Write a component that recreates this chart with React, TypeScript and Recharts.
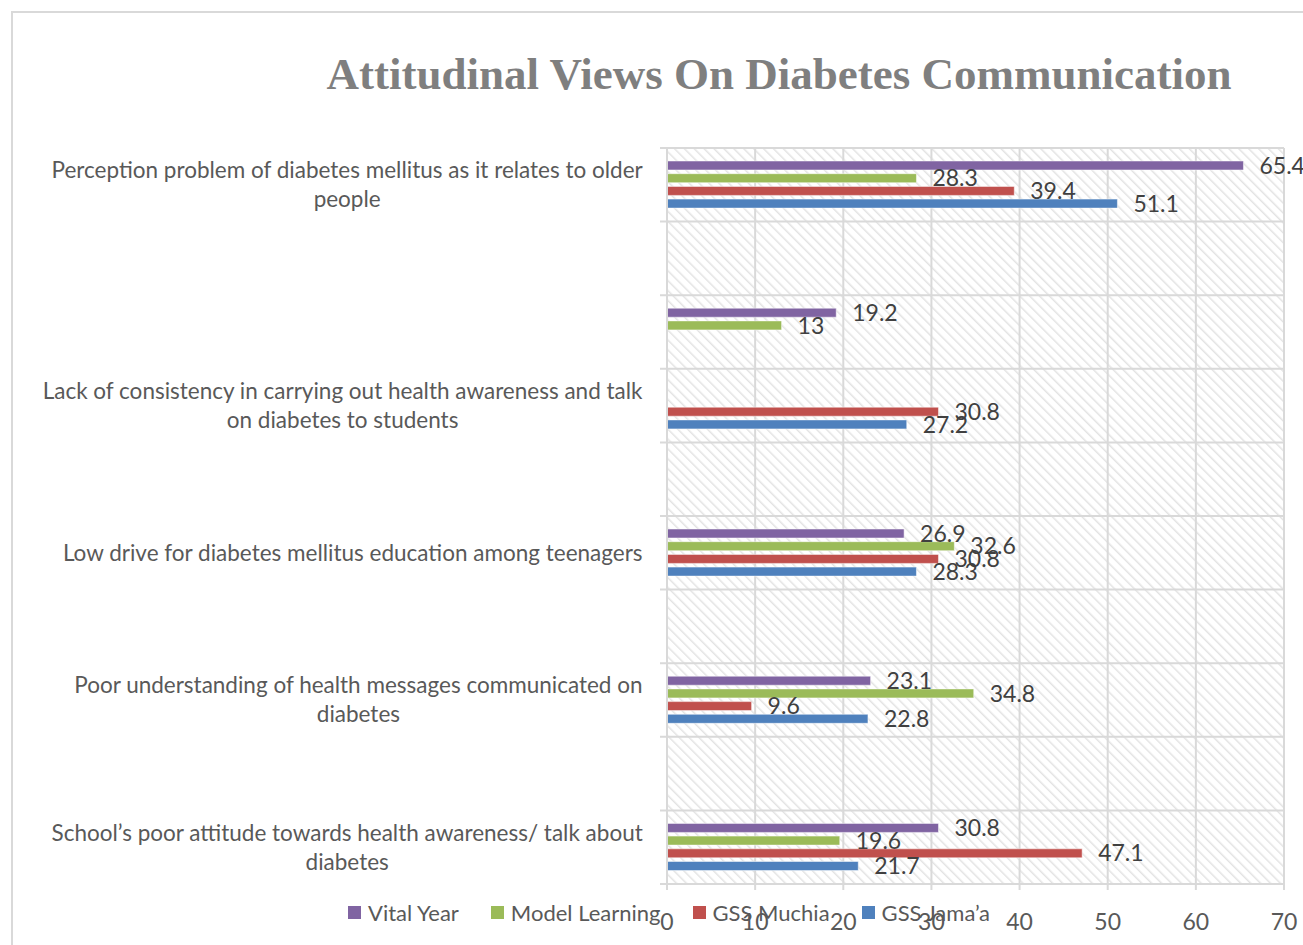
import { BarChart, Bar, XAxis, YAxis, CartesianGrid, LabelList } from 'recharts';

// categories, top to bottom (empty bands kept as in the source chart)
const categoryKeys = ['c0', 'c1', 'c2', 'c3', 'c4', 'c5', 'c6', 'c7', 'c8', 'c9'];
const categoryLabels: string[][] = [
  ['Perception problem of diabetes mellitus as it relates to older', 'people'],
  [],
  [],
  ['Lack of consistency in carrying out health awareness and talk', 'on diabetes to students'],
  [],
  ['Low drive for diabetes mellitus education among teenagers'],
  [],
  ['Poor understanding of health messages communicated on', 'diabetes'],
  [],
  ['School\u2019s poor attitude towards health awareness/ talk about', 'diabetes'],
];

const vitalYear = [65.4, null, 19.2, null, null, 26.9, null, 23.1, null, 30.8];
const modelLearning = [28.3, null, 13, null, null, 32.6, null, 34.8, null, 19.6];
const gssMuchia = [39.4, null, null, 30.8, null, 30.8, null, 9.6, null, 47.1];
const gssJamaa = [51.1, null, null, 27.2, null, 28.3, null, 22.8, null, 21.7];

const xTicks = [0, 10, 20, 30, 40, 50, 60, 70];

const series = [
  { key: 'vitalYear', name: 'Vital Year', color: '#8064A2' },
  { key: 'modelLearning', name: 'Model Learning', color: '#9BBB59' },
  { key: 'gssMuchia', name: 'GSS Muchia', color: '#C0504D' },
  { key: 'gssJamaa', name: 'GSS Jama\u2019a', color: '#4F81BD' },
];

const data = categoryKeys.map((k, i) => ({
  cat: k,
  vitalYear: vitalYear[i],
  modelLearning: modelLearning[i],
  gssMuchia: gssMuchia[i],
  gssJamaa: gssJamaa[i],
}));

const FONT = 'Lato, "Open Sans", sans-serif';
const LABEL_SIZE = 22.5;
const TEXT_COLOR = '#595959';
const GRID = '#d9d9d9';

let ctx: CanvasRenderingContext2D | null = null;
const measure = (s: string) => {
  if (!ctx) ctx = document.createElement('canvas').getContext('2d');
  if (!ctx) return s.length * LABEL_SIZE * 0.45;
  ctx.font = `${LABEL_SIZE}px Lato`;
  return ctx.measureText(s).width;
};

// wrapped category label: block right-aligned, lines centred inside it
const CategoryTick = ({ x, y, payload }: any) => {
  const idx = categoryKeys.indexOf(payload.value);
  const lines = categoryLabels[idx] || [];
  if (!lines.length) return null;
  const blockW = Math.max(...lines.map(measure));
  const cx = x - blockW / 2;
  const lh = 29;
  const y0 = y - ((lines.length - 1) * lh) / 2;
  return (
    <text x={cx} y={y0} textAnchor="middle" fill={TEXT_COLOR} fontSize={LABEL_SIZE} fontFamily={FONT}>
      {lines.map((l, i) => (
        <tspan key={i} x={cx} y={y0 + i * lh} dy="0.35em">{l}</tspan>
      ))}
    </text>
  );
};

const App = () => {
  const n = categoryKeys.length;
  return (
    <div style={{ position: 'absolute', left: 0, top: 0, width: 1303, height: 945, overflow: 'hidden', background: '#fff' }}>
      <div style={{ position: 'absolute', left: 11, top: 11, width: 1400, height: 1000, border: '2px solid #d9d9d9' }} />
      <div style={{
        position: 'absolute', left: 279, top: 46, width: 1000, textAlign: 'center', whiteSpace: 'nowrap',
        fontFamily: '"Liberation Serif", serif', fontWeight: 'bold', fontSize: 45, color: '#7f7f7f', lineHeight: '56px',
      }}>
        Attitudinal Views On Diabetes Communication
      </div>
      <div style={{ position: 'absolute', left: 0, top: 0 }}>
        <BarChart
          width={1303}
          height={945}
          data={data}
          layout="vertical"
          margin={{ top: 148, right: 19, bottom: 21, left: 0 }}
          barSize={9}
          barGap={3.7}
        >
          <defs>
            <pattern id="hatch" width="7" height="7" patternUnits="userSpaceOnUse" patternTransform="rotate(-45)">
              <rect width="7" height="7" fill="#ffffff" />
              <line x1="0" y1="0" x2="0" y2="7" stroke="#e3e3e3" strokeWidth="3" />
            </pattern>
          </defs>
          <CartesianGrid
            fill="url(#hatch)"
            stroke={GRID}
            strokeWidth={2}
            horizontalCoordinatesGenerator={({ offset }: any) =>
              Array.from({ length: n + 1 }, (_, i) => offset.top + (i * offset.height) / n)
            }
            horizontal={(p: any) => (
              <line key={p.key} x1={p.x1 - 7} x2={p.x2} y1={p.y1} y2={p.y2} stroke={GRID} strokeWidth={2} />
            )}
          />
          <XAxis
            type="number"
            domain={[0, 70]}
            ticks={xTicks}
            height={40}
            axisLine={{ stroke: GRID, strokeWidth: 2 }}
            tickLine={{ stroke: GRID, strokeWidth: 2 }}
            tickSize={6}
            tickMargin={24}
            tick={{ fill: TEXT_COLOR, fontSize: 23, fontFamily: FONT }}
          />
          <YAxis
            type="category"
            dataKey="cat"
            width={667}
            axisLine={{ stroke: GRID, strokeWidth: 2 }}
            tickLine={false}
            tickSize={6}
            tickMargin={18}
            interval={0}
            tick={<CategoryTick />}
          />
          {series.map((s) => (
            <Bar key={s.key} dataKey={s.key} name={s.name} fill={s.color} stroke="#ffffff" strokeWidth={0.5} isAnimationActive={false}>
              <LabelList dataKey={s.key} position="right" offset={16} fill="#404040" fontSize={23} fontFamily={FONT} />
            </Bar>
          ))}
        </BarChart>
      </div>
      <div style={{ position: 'absolute', left: 348, top: 899, display: 'flex', alignItems: 'center', fontFamily: FONT, fontSize: 22, color: TEXT_COLOR }}>
        {series.map((s) => (
          <div key={s.key} style={{ display: 'flex', alignItems: 'center', marginRight: 32 }}>
            <span style={{ width: 13, height: 13, background: s.color, display: 'inline-block', marginRight: 7 }} />
            <span>{s.name}</span>
          </div>
        ))}
      </div>
    </div>
  );
};

export default App;
